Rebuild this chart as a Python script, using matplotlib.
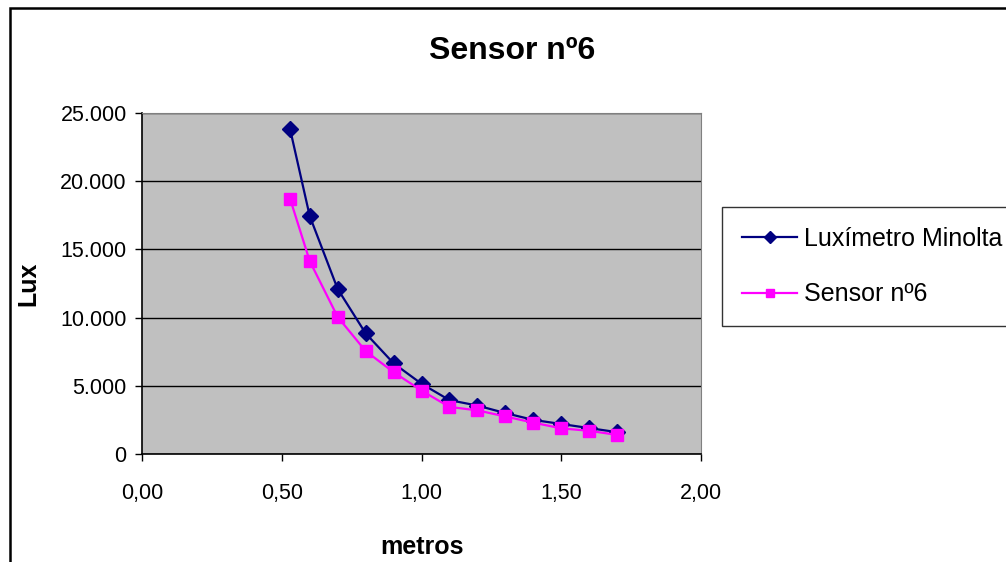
import matplotlib.pyplot as plt
from matplotlib.patches import Rectangle
from matplotlib.ticker import FuncFormatter, MultipleLocator

plt.rcParams['font.family'] = ['Liberation Sans', 'DejaVu Sans']

# datos
metros = [0.53, 0.60, 0.70, 0.80, 0.90, 1.00, 1.10, 1.20, 1.30, 1.40, 1.50, 1.60, 1.70]
luximetro = [23800, 17450, 12100, 8850, 6650, 5150, 3950, 3550, 3000, 2500, 2200, 1900, 1600]
sensor6 = [18700, 14150, 10050, 7550, 6000, 4650, 3450, 3200, 2750, 2300, 1880, 1700, 1400]

fig = plt.figure(figsize=(10.06, 5.62), dpi=100)
fig.patch.set_facecolor('white')

# marco exterior del grafico (recortado a la derecha y abajo)
fig.patches.append(Rectangle((10 / 1006, -0.2), 1.2, 1.2 - 8 / 562,
                             transform=fig.transFigure, fill=False,
                             edgecolor='black', linewidth=1.8, zorder=0))

ax = fig.add_axes([142 / 1006, 1 - 454 / 562, (701 - 142) / 1006, (454 - 113) / 562])
ax.set_facecolor('#C0C0C0')

ax.plot(metros, luximetro, color='#000080', lw=1.6, marker='D', ms=8.5,
        label='Luxímetro Minolta', zorder=3)
ax.plot(metros, sensor6, color='#FF00FF', lw=1.6, marker='s', ms=8,
        label='Sensor nº6', zorder=3)

ax.set_xlim(0, 2)
ax.set_ylim(0, 25000)
ax.xaxis.set_major_locator(MultipleLocator(0.5))
ax.yaxis.set_major_locator(MultipleLocator(5000))
ax.xaxis.set_major_formatter(FuncFormatter(lambda v, p: f'{v:.2f}'.replace('.', ',')))
ax.yaxis.set_major_formatter(FuncFormatter(lambda v, p: f'{int(v):,}'.replace(',', '.')))
ax.grid(axis='y', color='black', lw=1)
ax.set_axisbelow(True)

for s in ['top', 'right']:
    ax.spines[s].set_color('#808080')
for s in ['left', 'bottom']:
    ax.spines[s].set_color('black')
    ax.spines[s].set_linewidth(1.2)

ax.tick_params(direction='out', length=5, width=1, labelsize=15.5, pad=6)
ax.tick_params(axis='x', pad=16)

ax.set_xlabel('metros', fontsize=18, fontweight='bold', labelpad=22)
ax.set_ylabel('Lux', fontsize=18, fontweight='bold', labelpad=14)
fig.text(512 / 1006, 1 - 51 / 562, 'Sensor nº6', fontsize=23, fontweight='bold',
         ha='center', va='center')

leg = ax.legend(loc='upper left', bbox_to_anchor=(722 / 1006, 1 - 207 / 562),
                bbox_transform=fig.transFigure, fontsize=18, frameon=True,
                fancybox=False, edgecolor='black', handlelength=2.2,
                handletextpad=0.3, labelspacing=1.25, borderpad=0.8,
                markerscale=0.7, borderaxespad=0)
leg.get_frame().set_linewidth(1)

plt.savefig('out.png', dpi=100)
